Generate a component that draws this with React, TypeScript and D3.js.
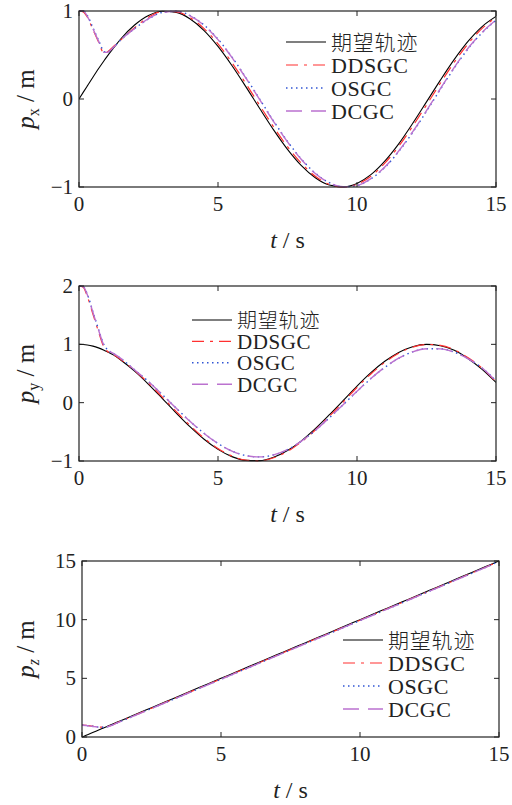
import React from "react";
import * as d3 from "d3";

// time samples (s)
const time = [0, 0.15, 0.3, 0.5, 0.7, 0.9, 1.0, 1.25, 1.5, 2, 2.5, 3, 3.5, 4, 4.5, 5, 5.5, 6, 6.5, 7, 7.5, 8, 8.5, 9, 9.5, 10, 10.5, 11, 11.5, 12, 12.5, 13, 13.5, 14, 14.5, 15];

// p_x
const pxRef = [0, 0.075, 0.149, 0.247, 0.343, 0.435, 0.479, 0.582, 0.682, 0.841, 0.949, 0.997, 0.984, 0.909, 0.778, 0.598, 0.381, 0.141, -0.108, -0.351, -0.572, -0.757, -0.895, -0.978, -0.999, -0.959, -0.86, -0.706, -0.51, -0.279, -0.033, 0.215, 0.45, 0.657, 0.823, 0.938];
const pxDDSGC = [1, 0.99, 0.93, 0.79, 0.65, 0.52, 0.53, 0.6, 0.67, 0.81, 0.93, 0.994, 0.99, 0.923, 0.8, 0.626, 0.414, 0.176, -0.073, -0.318, -0.542, -0.731, -0.879, -0.97, -1.0, -0.969, -0.877, -0.729, -0.538, -0.311, -0.068, 0.18, 0.418, 0.629, 0.802, 0.927];
const pxOSGC = [1, 1.0, 0.95, 0.81, 0.67, 0.54, 0.53, 0.59, 0.67, 0.8, 0.91, 0.984, 0.997, 0.948, 0.84, 0.68, 0.478, 0.245, -0.002, -0.25, -0.482, -0.683, -0.842, -0.95, -0.998, -0.984, -0.907, -0.778, -0.597, -0.381, -0.14, 0.11, 0.353, 0.573, 0.753, 0.895];
const pxDCGC = [1, 1.0, 0.94, 0.8, 0.66, 0.53, 0.53, 0.59, 0.67, 0.8, 0.913, 0.985, 0.997, 0.946, 0.837, 0.675, 0.472, 0.239, -0.008, -0.256, -0.487, -0.688, -0.846, -0.952, -0.998, -0.982, -0.904, -0.773, -0.591, -0.374, -0.133, 0.117, 0.36, 0.579, 0.758, 0.899];

// p_y
const pyRef = [1, 0.997, 0.989, 0.969, 0.939, 0.9, 0.878, 0.815, 0.732, 0.54, 0.315, 0.071, -0.178, -0.416, -0.628, -0.801, -0.925, -0.99, -0.994, -0.936, -0.82, -0.654, -0.446, -0.211, 0.035, 0.284, 0.514, 0.709, 0.861, 0.96, 0.999, 0.977, 0.897, 0.754, 0.572, 0.347];
const pyDDSGC = [2, 1.98, 1.82, 1.52, 1.22, 0.95, 0.89, 0.82, 0.74, 0.553, 0.334, 0.094, -0.153, -0.393, -0.608, -0.786, -0.915, -0.986, -0.997, -0.945, -0.835, -0.673, -0.468, -0.235, 0.01, 0.26, 0.492, 0.69, 0.846, 0.951, 0.998, 0.983, 0.908, 0.77, 0.592, 0.36];
const pyOSGC = [2, 1.99, 1.86, 1.56, 1.26, 0.99, 0.92, 0.84, 0.76, 0.562, 0.362, 0.137, -0.095, -0.321, -0.526, -0.699, -0.829, -0.907, -0.93, -0.895, -0.806, -0.662, -0.476, -0.262, -0.036, 0.194, 0.413, 0.604, 0.76, 0.871, 0.925, 0.924, 0.866, 0.754, 0.595, 0.375];
const pyDCGC = [2, 1.99, 1.85, 1.55, 1.25, 0.98, 0.92, 0.84, 0.76, 0.56, 0.36, 0.135, -0.097, -0.323, -0.528, -0.701, -0.83, -0.908, -0.93, -0.894, -0.804, -0.66, -0.474, -0.26, -0.034, 0.196, 0.415, 0.606, 0.762, 0.872, 0.925, 0.923, 0.864, 0.752, 0.595, 0.37];

// p_z
const pzRef = [0, 0.15, 0.3, 0.5, 0.7, 0.9, 1.0, 1.25, 1.5, 2, 2.5, 3, 3.5, 4, 4.5, 5, 5.5, 6, 6.5, 7, 7.5, 8, 8.5, 9, 9.5, 10, 10.5, 11, 11.5, 12, 12.5, 13, 13.5, 14, 14.5, 15];
const pzDDSGC = [1.02, 1.0, 0.95, 0.88, 0.84, 0.88, 0.95, 1.2, 1.45, 1.95, 2.45, 2.95, 3.45, 3.95, 4.45, 4.95, 5.45, 5.95, 6.45, 6.95, 7.45, 7.95, 8.45, 8.95, 9.45, 9.95, 10.45, 10.95, 11.45, 11.95, 12.45, 12.95, 13.45, 13.95, 14.45, 14.97];
const pzOSGC = [1.0, 0.98, 0.93, 0.87, 0.83, 0.87, 0.94, 1.18, 1.43, 1.93, 2.43, 2.93, 3.42, 3.92, 4.42, 4.92, 5.42, 5.92, 6.42, 6.92, 7.42, 7.92, 8.42, 8.92, 9.42, 9.92, 10.42, 10.92, 11.42, 11.93, 12.43, 12.93, 13.43, 13.93, 14.44, 14.96];
const pzDCGC = [1.0, 0.98, 0.93, 0.87, 0.83, 0.87, 0.94, 1.18, 1.43, 1.93, 2.43, 2.93, 3.42, 3.92, 4.42, 4.92, 5.42, 5.92, 6.42, 6.92, 7.42, 7.92, 8.42, 8.92, 9.42, 9.92, 10.42, 10.92, 11.42, 11.93, 12.43, 12.93, 13.43, 13.93, 14.44, 14.96];

const xTicks = [0, 5, 10, 15];
const legendNames = ["期望轨迹", "DDSGC", "OSGC", "DCGC"];

const seriesStyle = [
  { color: "#000000", dash: null, width: 1.1 },
  { color: "#ff3030", dash: "12,6,3,6", width: 1.2 },
  { color: "#3155d4", dash: "1.5,3.5", width: 1.4 },
  { color: "#bb72cf", dash: "16,9", width: 1.4 },
];

const panels = [
  {
    top: 11, bottom: 187, left: 79, right: 496,
    domain: [-1, 1], yTicks: [-1, 0, 1], sub: "x", subItalic: false,
    series: [pxRef, pxDDSGC, pxOSGC, pxDCGC],
    legend: { x: 286, y: 42, step: 23, len: 40, font: 22 },
  },
  {
    top: 286, bottom: 461, left: 79, right: 496,
    domain: [-1, 2], yTicks: [-1, 0, 1, 2], sub: "y", subItalic: false,
    series: [pyRef, pyDDSGC, pyOSGC, pyDCGC],
    legend: { x: 192, y: 320, step: 21.4, len: 40, font: 21 },
  },
  {
    top: 561, bottom: 737, left: 82, right: 499,
    domain: [0, 15], yTicks: [0, 5, 10, 15], sub: "z", subItalic: true,
    series: [pzRef, pzDDSGC, pzOSGC, pzDCGC],
    legend: { x: 343, y: 640, step: 23, len: 40, font: 22 },
  },
];

const serif = "'Liberation Serif', 'Times New Roman', serif";
const cjk = "'Noto Sans CJK SC', sans-serif";

const Panel = ({ p }) => {
  const x = d3.scaleLinear().domain([0, 15]).range([p.left, p.right]);
  const y = d3.scaleLinear().domain(p.domain).range([p.bottom, p.top]);
  const line = d3
    .line()
    .x((d) => x(d[0]))
    .y((d) => y(d[1]))
    .curve(d3.curveMonotoneX);
  const tk = 5;
  const midY = (p.top + p.bottom) / 2;
  const midX = (p.left + p.right) / 2;

  return (
    <g>
      <defs>
        <clipPath id={"clip" + p.top}>
          <rect x={p.left} y={p.top - 1} width={p.right - p.left} height={p.bottom - p.top + 2} />
        </clipPath>
      </defs>
      <g clipPath={`url(#clip${p.top})`}>
        {p.series.map((vals, i) => (
          <path
            key={i}
            d={line(time.map((t, j) => [t, vals[j]]))}
            fill="none"
            stroke={seriesStyle[i].color}
            strokeWidth={seriesStyle[i].width}
            strokeDasharray={seriesStyle[i].dash || undefined}
          />
        ))}
      </g>
      <rect x={p.left} y={p.top} width={p.right - p.left} height={p.bottom - p.top} fill="none" stroke="#222" strokeWidth={1.2} />
      {xTicks.map((t) => (
        <g key={"x" + t}>
          <line x1={x(t)} x2={x(t)} y1={p.bottom} y2={p.bottom - tk} stroke="#222" />
          <line x1={x(t)} x2={x(t)} y1={p.top} y2={p.top + tk} stroke="#222" />
          <text x={x(t)} y={p.bottom + 24} textAnchor="middle" fontFamily={serif} fontSize={21} fill="#222">
            {t}
          </text>
        </g>
      ))}
      {p.yTicks.map((v) => (
        <g key={"y" + v}>
          <line x1={p.left} x2={p.left + tk} y1={y(v)} y2={y(v)} stroke="#222" />
          <line x1={p.right} x2={p.right - tk} y1={y(v)} y2={y(v)} stroke="#222" />
          <text x={p.left - 6} y={y(v) + 7} textAnchor="end" fontFamily={serif} fontSize={21} fill="#222">
            {v < 0 ? "\u2212" + Math.abs(v) : v}
          </text>
        </g>
      ))}
      <text x={midX} y={p.bottom + 61} textAnchor="middle" fontFamily={serif} fontSize={24} fill="#222">
        <tspan fontStyle="italic">t</tspan>
        <tspan> / s</tspan>
      </text>
      <text
        transform={`translate(34,${midY}) rotate(-90)`}
        textAnchor="middle"
        fontFamily={serif}
        fontSize={25}
        fill="#222"
      >
        <tspan fontStyle="italic">p</tspan>
        <tspan fontSize={16} dy={5} fontStyle={p.subItalic ? "italic" : "normal"}>{p.sub}</tspan>
        <tspan dy={-5}> / m</tspan>
      </text>
      {legendNames.map((name, i) => {
        const ly = p.legend.y + i * p.legend.step;
        const isCjk = i === 0;
        return (
          <g key={name}>
            <line
              x1={p.legend.x}
              x2={p.legend.x + p.legend.len}
              y1={ly}
              y2={ly}
              stroke={seriesStyle[i].color}
              strokeWidth={seriesStyle[i].width}
              strokeDasharray={seriesStyle[i].dash || undefined}
            />
            <text
              x={p.legend.x + p.legend.len + 5}
              y={ly + 7.5}
              fontFamily={isCjk ? cjk : serif}
              fontSize={isCjk ? p.legend.font - 1 : p.legend.font}
              fontWeight={isCjk ? 300 : 400}
              letterSpacing={isCjk ? 0.8 : 0.6}
              fill="#222"
            >
              {name}
            </text>
          </g>
        );
      })}
    </g>
  );
};

export default function App() {
  return (
    <svg width={512} height={805} style={{ position: "absolute", left: 0, top: 0, background: "#fff" }}>
      <rect width={512} height={805} fill="#fff" />
      {panels.map((p) => (
        <Panel key={p.top} p={p} />
      ))}
    </svg>
  );
}
